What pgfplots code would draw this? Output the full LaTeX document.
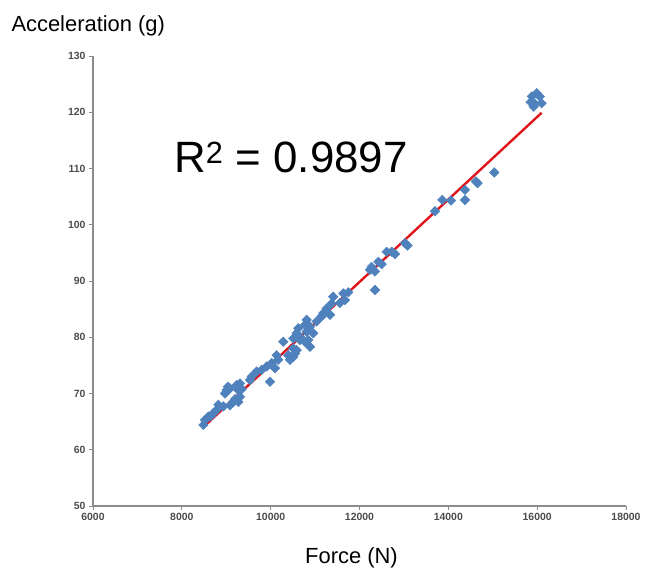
\documentclass[border=0pt]{standalone}
\usepackage{pgfplots}
\pgfplotsset{compat=1.18}
\usepackage{fontspec}
\setmainfont{Liberation Sans}
\definecolor{ptblue}{HTML}{4F81BD}
\definecolor{fitred}{HTML}{E0141B}
\definecolor{axgray}{HTML}{8C8C8C}

\pgfplotstableread{
x y
8485 64.4
8522 65.3
8597 65.9
8650 66.0
8710 66.5
8785 67.1
8823 68.0
8935 67.7
9010 70.6
8972 70.0
9040 71.2
9085 70.9
9085 67.9
9160 68.5
9200 69.0
9273 68.5
9310 69.4
9273 70.6
9235 71.5
9310 71.8
9350 70.8
9535 72.4
9573 73.0
9685 73.9
9798 74.2
9910 74.8
9985 72.1
10022 75.4
10097 74.5
10134 76.8
10172 76.0
10285 79.2
10397 76.8
10435 76.0
10510 78.0
10548 77.1
10510 76.5
10585 77.7
10660 80.1
10773 79.2
10810 81.0
10510 79.8
10585 80.7
10623 81.6
10660 79.5
10848 79.5
10885 78.3
10885 81.9
10810 83.1
10773 82.2
10960 80.7
11035 82.8
11147 83.7
11185 84.3
11260 85.1
11335 84.0
11372 86.0
11410 87.2
11560 86.1
11636 87.8
11673 86.6
11750 88.0
12236 92.0
12272 92.5
12348 91.7
12348 88.4
12423 93.4
12500 93.0
12610 95.2
12724 95.2
12800 94.8
13024 96.7
13080 96.3
13700 102.4
13865 104.4
14060 104.3
14375 104.4
14375 106.2
14620 107.7
14658 107.4
15034 109.3
15850 121.8
15880 122.8
15920 121.0
15950 121.5
15990 123.4
16060 122.8
16100 121.6
}\measured

\begin{document}
\begin{tikzpicture}
\begin{axis}[
    name=ax,
    scale only axis,
    width=533bp, height=450bp,
    xmin=6000, xmax=18000,
    ymin=50, ymax=130,
    xtick={6000,8000,...,18000},
    ytick={50,60,...,130},
    scaled ticks=false,
    axis lines=left,
    axis line style={axgray, line width=1.6pt, -},
    tick align=outside,
    major tick length=4bp,
    tick style={axgray, line width=0.8pt},
    tick label style={font=\fontsize{10.5}{12}\selectfont\bfseries, text=black!70},
    /pgf/number format/assume math mode=true,
    /pgf/number format/fixed,
    /pgf/number format/set thousands separator={},
    every axis x label/.style={at={(rel axis cs:0.5,0)}, anchor=base, yshift=-57bp, xshift=-8bp},
    every axis y label/.style={at={(rel axis cs:0,1)}, anchor=base west, xshift=-85bp, yshift=24bp},
    label style={font=\fontsize{22}{26}\selectfont},
    xlabel={Force (N)},
    ylabel={Acceleration (g)},
    clip=false,
]
\addplot[only marks, mark=square*, mark size=3.4bp,
    mark options={ptblue, draw=none, rotate=45}] table[x=x, y=y] {\measured};
\addplot[fitred, line width=2.4pt] coordinates {(8480,64.0) (16100,119.9)};
\node[font=\fontsize{44}{48}\selectfont, anchor=base] at (axis cs:10457,109.3)
    {R\textsuperscript{2} = 0.9897};
\end{axis}
\path ([shift={(-93bp,-72bp)}]ax.south west) rectangle ([shift={(26bp,56bp)}]ax.north east);
\end{tikzpicture}
\end{document}
